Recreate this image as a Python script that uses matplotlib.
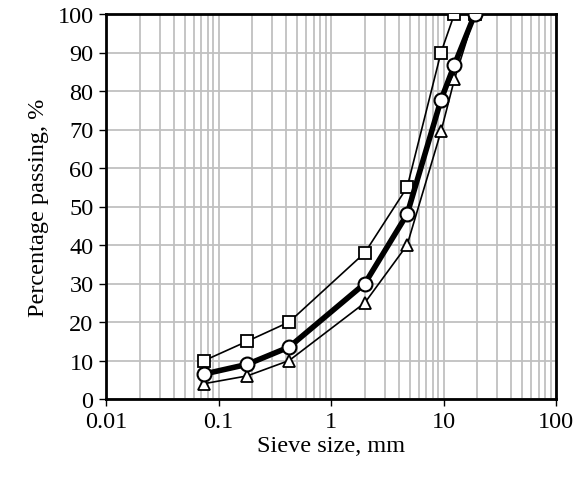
import matplotlib
matplotlib.use("Agg")
import matplotlib.pyplot as plt
from matplotlib.ticker import LogLocator, NullFormatter, FixedLocator

plt.rcParams["font.family"] = ["Liberation Serif", "DejaVu Serif"]

# sieve sizes in mm
sieve = [0.075, 0.18, 0.425, 2, 4.75, 9.5, 12.5, 19]
upper = [10, 15, 20, 38, 55, 90, 100, 100]
mid = [6.5, 9, 13.5, 30, 48, 77.7, 86.8, 100]
lower = [4, 6, 10, 25, 40, 69.5, 83, 100]
x_ticks = [0.01, 0.1, 1, 10, 100]
x_labels = ["0.01", "0.1", "1", "10", "100"]

fig = plt.figure(figsize=(5.79, 4.81), dpi=100)
ax = fig.add_axes([106 / 579, 1 - 400 / 481, (556 - 106) / 579, (400 - 15) / 481])

ax.plot(sieve, upper, color="black", lw=1.2, marker="s", ms=9,
        mfc="white", mec="black", mew=1.3, zorder=3)
ax.plot(sieve, lower, color="black", lw=1.2, marker="^", ms=9,
        mfc="white", mec="black", mew=1.3, zorder=3)
ax.plot(sieve, mid, color="black", lw=4, marker="o", ms=10,
        mfc="white", mec="black", mew=1.5, zorder=4)

ax.set_xscale("log")
ax.set_xlim(0.01, 100)
ax.set_ylim(0, 100)
ax.xaxis.set_major_locator(FixedLocator(x_ticks))
ax.set_xticklabels(x_labels)
ax.xaxis.set_minor_locator(LogLocator(base=10, subs=range(2, 10), numticks=20))
ax.xaxis.set_minor_formatter(NullFormatter())
ax.set_yticks(range(0, 101, 10))

ax.grid(True, which="both", axis="x", color="#c0c0c0", lw=1.3)
ax.grid(True, which="major", axis="y", color="#c0c0c0", lw=1.3)
ax.set_axisbelow(True)
ax.tick_params(which="minor", length=0)
ax.tick_params(which="major", length=5, width=1, direction="out", labelsize=17.5, pad=4)

for s in ax.spines.values():
    s.set_linewidth(2)
    s.set_color("black")

ax.set_xlabel("Sieve size, mm", fontsize=17.5, labelpad=2)
ax.set_ylabel("Percentage passing, %", fontsize=17.5, labelpad=6)

fig.savefig("out.png", dpi=100)
